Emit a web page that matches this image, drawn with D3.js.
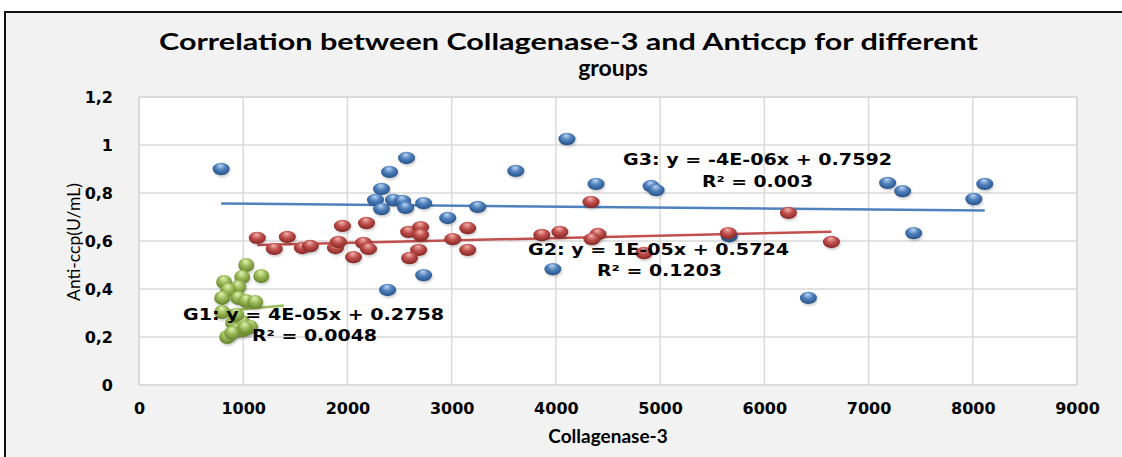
<!DOCTYPE html>
<html><head><meta charset="utf-8">
<script src="https://cdn.jsdelivr.net/npm/d3@7"></script>
<style>body{margin:0;background:#fff;overflow:hidden}</style>
</head><body>
<svg id="chart" width="1122" height="457"></svg>
<script>
// ---------- data ----------
const titleLines = ["Correlation between Collagenase-3  and Anticcp for different", "groups"];
const xAxisTitle = "Collagenase-3";
const yAxisTitle = "Anti-ccp(U/mL)";
const xTickValues = [0,1000,2000,3000,4000,5000,6000,7000,8000,9000];
const yTickValues = [0,0.2,0.4,0.6,0.8,1,1.2];
const yTickLabels = ["0","0,2","0,4","0,6","0,8","1","1,2"];

const g3X = [788,2567,2404,2327,2269,2327,2442,2529,2558,2731,2962,3250,3615,2731,2385,4106,4385,4913,4962,3971,6423,7183,7327,8115,8010,7433,5663];
const g3Y = [0.900,0.946,0.888,0.817,0.771,0.733,0.771,0.767,0.738,0.758,0.696,0.742,0.892,0.458,0.396,1.025,0.838,0.829,0.812,0.483,0.363,0.842,0.808,0.838,0.775,0.633,0.620];

const g2X = [1135,1298,1423,1567,1644,1885,1913,1952,2058,2154,2183,2202,2587,2702,2702,2683,2596,3010,3154,3154,3865,4038,4337,4404,4346,4846,5654,6231,6644];
const g2Y = [0.613,0.567,0.617,0.571,0.579,0.571,0.596,0.663,0.533,0.592,0.675,0.567,0.638,0.658,0.625,0.563,0.529,0.608,0.654,0.563,0.625,0.638,0.763,0.629,0.608,0.550,0.633,0.717,0.596];

const g1X = [1029,990,1173,817,952,856,798,952,1029,1115,798,904,990,1067,942,846,1000,894,1019,933];
const g1Y = [0.500,0.450,0.454,0.429,0.408,0.396,0.363,0.363,0.350,0.346,0.304,0.258,0.263,0.242,0.229,0.200,0.229,0.217,0.238,0.292];

const seriesNames = ["G3","G2","G1"];
const trendSlope = [-4e-6, 1e-5, 4e-5];
const trendIntercept = [0.7592, 0.5724, 0.2758];
const trendFrom = [788, 1135, 798];
const trendTo = [8115, 6644, 1390];
const eqText = ["G3: y = -4E-06x + 0.7592","G2: y = 1E-05x + 0.5724","G1: y = 4E-05x + 0.2758"];
const r2Text = ["R² = 0.003","R² = 0.1203","R² = 0.0048"];

// ---------- layout / style ----------
const W = 1122, H = 457;
const plot = {left:139, right:1077, top:97, bottom:385};
const colors = {G3:"#4f81bd", G2:"#c0504d", G1:"#9bbb59"};
const light = {G3:"#bcd5f2", G2:"#f2b3b1", G1:"#e4f3b5"};
const dark = {G3:"#1f4a80", G2:"#7d1f1c", G1:"#5c7a22"};
const labelPos = [
  {x1:623, y1:165, w1:269, x2:702, y2:187, w2:111},
  {x1:528, y1:255, w1:261, x2:597, y2:276, w2:125},
  {x1:183, y1:320, w1:261, x2:252, y2:341, w2:125}
];

const svg = d3.select("#chart");
const defs = svg.append("defs");
seriesNames.forEach(n=>{
  const g = defs.append("radialGradient").attr("id","grad"+n)
    .attr("cx","50%").attr("cy","40%").attr("r","65%").attr("fx","45%").attr("fy","22%");
  g.append("stop").attr("offset","0%").attr("stop-color",light[n]);
  g.append("stop").attr("offset","45%").attr("stop-color",colors[n]);
  g.append("stop").attr("offset","100%").attr("stop-color",dark[n]);
});
const blur = defs.append("filter").attr("id","shadow").attr("x","-50%").attr("y","-50%").attr("width","200%").attr("height","200%");
blur.append("feGaussianBlur").attr("stdDeviation",1.2);

// background + frame
svg.append("rect").attr("width",W).attr("height",H).attr("fill","#ffffff");
svg.append("rect").attr("x",5).attr("y",12).attr("width",W+10).attr("height",H+10)
  .attr("fill","#f2f2f2").attr("stroke","#111").attr("stroke-width",2);

const x = d3.scaleLinear().domain([0,9000]).range([plot.left, plot.right]);
const y = d3.scaleLinear().domain([0,1.2]).range([plot.bottom, plot.top]);

svg.append("rect").attr("x",plot.left).attr("y",plot.top)
  .attr("width",plot.right-plot.left).attr("height",plot.bottom-plot.top)
  .attr("fill","#ffffff").attr("stroke","#d9d9d9").attr("stroke-width",1.5);

// gridlines
svg.append("g").selectAll("line").data(xTickValues).join("line")
  .attr("x1",d=>x(d)).attr("x2",d=>x(d)).attr("y1",plot.top).attr("y2",plot.bottom)
  .attr("stroke","#d9d9d9").attr("stroke-width",1.5);
svg.append("g").selectAll("line").data(yTickValues).join("line")
  .attr("y1",d=>y(d)).attr("y2",d=>y(d)).attr("x1",plot.left).attr("x2",plot.right)
  .attr("stroke","#d9d9d9").attr("stroke-width",1.5);

// axes (labels only)
const tickFont = "'DejaVu Sans', Verdana, sans-serif";
const xAxis = d3.axisBottom(x).tickValues(xTickValues).tickSize(0).tickPadding(18).tickFormat(d3.format("d"));
const gx = svg.append("g").attr("transform",`translate(0,${plot.bottom})`).call(xAxis);
gx.select(".domain").remove();
gx.selectAll("text").attr("font-family",tickFont).attr("font-weight","bold")
  .attr("font-size",16).attr("fill","#000");

const yAxis = d3.axisLeft(y).tickValues(yTickValues).tickSize(0).tickPadding(26)
  .tickFormat((d,i)=>yTickLabels[i]);
const gy = svg.append("g").attr("transform",`translate(${plot.left},0)`).call(yAxis);
gy.select(".domain").remove();
gy.selectAll("text").attr("font-family",tickFont).attr("font-weight","bold")
  .attr("font-size",16).attr("fill","#000");

// titles
const tf = "Lato, 'Open Sans', sans-serif";
svg.append("text").attr("x",159).attr("y",50).attr("font-family",tf).attr("font-weight","bold")
  .attr("font-size",23).attr("textLength",819).attr("lengthAdjust","spacingAndGlyphs").attr("fill","#000")
  .text(titleLines[0]);
svg.append("text").attr("x",613).attr("y",76).attr("text-anchor","middle").attr("font-family",tf).attr("font-weight","bold")
  .attr("font-size",23).attr("fill","#000").text(titleLines[1]);
svg.append("text").attr("x",608).attr("y",443).attr("text-anchor","middle").attr("font-family",tf).attr("font-weight","bold")
  .attr("font-size",19).attr("fill","#000").text(xAxisTitle);
svg.append("text").attr("transform","translate(80,242) rotate(-90)").attr("text-anchor","middle").attr("font-family",tf)
  .attr("font-size",17.5).attr("fill","#000").text(yAxisTitle);

// trendlines
const trendG = svg.append("g");
seriesNames.forEach((n,i)=>{
  const xs=[trendFrom[i], trendTo[i]];
  trendG.append("line")
    .attr("x1",x(xs[0])).attr("y1",y(trendSlope[i]*xs[0]+trendIntercept[i]))
    .attr("x2",x(xs[1])).attr("y2",y(trendSlope[i]*xs[1]+trendIntercept[i]))
    .attr("stroke",colors[n]).attr("stroke-width",2.5);
});

// points
const seriesData = [
  {name:"G3", xs:g3X, ys:g3Y},
  {name:"G2", xs:g2X, ys:g2Y},
  {name:"G1", xs:g1X, ys:g1Y}
];
seriesData.forEach(s=>{
  const pts = s.xs.map((v,i)=>({x:v,y:s.ys[i]}));
  const rx = s.name==="G1"?8:8.5, ry = s.name==="G1"?7:6.2;
  const g = svg.append("g");
  g.selectAll("ellipse.sh").data(pts).join("ellipse").attr("class","sh")
    .attr("cx",d=>x(d.x)+1).attr("cy",d=>y(d.y)+2).attr("rx",rx).attr("ry",ry)
    .attr("fill","#000").attr("opacity",0.18).attr("filter","url(#shadow)");
  g.selectAll("ellipse.pt").data(pts).join("ellipse").attr("class","pt")
    .attr("cx",d=>x(d.x)).attr("cy",d=>y(d.y)).attr("rx",rx).attr("ry",ry)
    .attr("fill",`url(#grad${s.name})`);
});

// equation labels
const ef = "'DejaVu Sans', Verdana, sans-serif";
seriesNames.forEach((n,i)=>{
  const p = labelPos[i];
  svg.append("text").attr("x",p.x1).attr("y",p.y1).attr("font-family",ef).attr("font-weight","bold")
    .attr("font-size",16).attr("textLength",p.w1).attr("lengthAdjust","spacingAndGlyphs").attr("fill","#000").text(eqText[i]);
  svg.append("text").attr("x",p.x2).attr("y",p.y2).attr("font-family",ef).attr("font-weight","bold")
    .attr("font-size",16).attr("textLength",p.w2).attr("lengthAdjust","spacingAndGlyphs").attr("fill","#000").text(r2Text[i]);
});
</script>
</body></html>
